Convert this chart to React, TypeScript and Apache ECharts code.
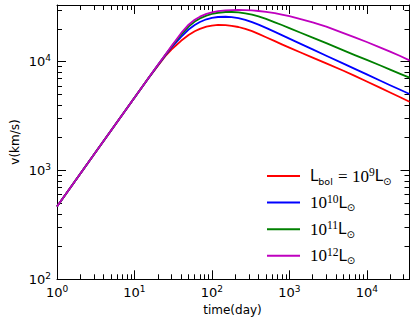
import React, { useEffect, useRef } from 'react';
import * as echarts from 'echarts';

// time in days
const times = [1, 3, 10, 15, 20, 25, 30, 40, 50, 60, 70, 85, 100, 120, 150, 180, 220, 270, 330, 400, 500, 650, 800, 1000, 1400, 2000, 3000, 5000, 7000, 10000, 15000, 20000, 27000, 35600];
// velocity in km/s for each bolometric luminosity
const vL9 = [467, 1400, 4670, 6970, 9120, 11220, 12940, 15560, 17580, 19050, 20040, 20990, 21480, 21780, 21680, 21380, 20840, 20040, 19100, 18030, 16790, 15450, 14450, 13490, 12160, 10910, 9640, 8260, 7400, 6580, 5740, 5210, 4710, 4290];
const vL10 = [467, 1400, 4670, 6980, 9250, 11430, 13490, 16900, 19770, 21730, 23170, 24550, 25290, 25760, 25880, 25700, 25180, 24270, 23070, 21880, 20460, 18790, 17540, 16290, 14590, 12970, 11350, 9590, 8590, 7640, 6680, 6080, 5520, 5050];
const vL11 = [467, 1400, 4670, 7000, 9290, 11530, 13740, 17700, 20990, 23390, 25000, 26550, 27480, 28180, 28640, 28640, 28380, 27800, 27040, 26060, 24720, 23010, 21730, 20370, 18450, 16630, 14790, 12710, 11510, 10380, 9230, 8470, 7740, 7130];
const vL12 = [467, 1400, 4670, 7000, 9310, 11590, 13870, 18280, 21880, 24320, 25940, 27540, 28440, 29110, 29580, 29850, 29920, 29850, 29580, 29240, 28710, 27930, 27100, 26180, 24660, 23010, 21040, 18280, 16750, 15170, 13490, 12390, 11270, 10280];

const seriesNames = ['L9', 'L10', 'L11', 'L12'];
const seriesColors = ['#ff0000', '#0000ff', '#008000', '#bf00bf'];
const seriesValues = [vL9, vL10, vL11, vL12];
const legendLabels = [
  '{L|L}{sb|bol}{n| = 10}{sp|9}{L|L}{od|⊙}',
  '{n|10}{sp|10}{L|L}{od|⊙}',
  '{n|10}{sp|11}{L|L}{od|⊙}',
  '{n|10}{sp|12}{L|L}{od|⊙}',
];

const X_MIN = 1;
const X_MAX = 35600;
const Y_MIN = 100;
const Y_MAX = 33200;
const xMajorExp = [0, 1, 2, 3, 4];
const yMajorExp = [2, 3, 4];

function minorLogs(lo: number, hi: number): number[] {
  const out: number[] = [];
  for (let e = Math.floor(Math.log10(lo)); e <= Math.ceil(Math.log10(hi)); e++) {
    for (let k = 2; k <= 9; k++) {
      const v = k * Math.pow(10, e);
      if (v > lo && v < hi) out.push(Math.log10(v));
    }
  }
  return out;
}

const tickRich = {
  b: { fontFamily: 'DejaVu Sans', fontSize: 13, lineHeight: 16, color: '#000', verticalAlign: 'middle' },
  s: { fontFamily: 'DejaVu Sans', fontSize: 9, lineHeight: 6, color: '#000', verticalAlign: 'top' },
};
const fmtPow = (v: number) => `{b|10}{s|${Math.round(v)}}`;

export default function App() {
  const ref = useRef<HTMLDivElement>(null);
  useEffect(() => {
    if (!ref.current) return;
    const chart = echarts.init(ref.current, undefined, { renderer: 'svg' });
    const xMinor = minorLogs(X_MIN, X_MAX);
    const yMinor = minorLogs(Y_MIN, Y_MAX);
    const lx0 = Math.log10(X_MIN), lx1 = Math.log10(X_MAX);
    const ly0 = Math.log10(Y_MIN), ly1 = Math.log10(Y_MAX);
    const lineStyle = { color: '#000', width: 1 };

    const mkAxis = (pos: string, lo: number, hi: number, ticks: number[], major: boolean, labels: boolean, margin: number) => ({
      type: 'value',
      position: pos,
      min: lo,
      max: hi,
      axisLine: { show: major, onZero: false, lineStyle },
      axisTick: { show: true, inside: true, length: major ? 9 : 5, customValues: ticks, lineStyle },
      axisLabel: labels
        ? { show: true, customValues: ticks, margin, formatter: fmtPow, rich: tickRich }
        : { show: false },
      splitLine: { show: false },
      axisPointer: { show: false },
    });

    chart.setOption({
      animation: false,
      backgroundColor: '#fff',
      grid: { left: 57, right: 5.5, top: 5, bottom: 44.7, containLabel: false },
      xAxis: [
        mkAxis('bottom', lx0, lx1, xMajorExp, true, true, 5),
        mkAxis('bottom', lx0, lx1, xMinor, false, false, 0),
        mkAxis('top', lx0, lx1, xMajorExp, true, false, 0),
        mkAxis('top', lx0, lx1, xMinor, false, false, 0),
      ],
      yAxis: [
        mkAxis('left', ly0, ly1, yMajorExp, true, true, 6),
        mkAxis('left', ly0, ly1, yMinor, false, false, 0),
        mkAxis('right', ly0, ly1, yMajorExp, true, false, 0),
        mkAxis('right', ly0, ly1, yMinor, false, false, 0),
      ],
      legend: {
        orient: 'vertical',
        left: 267,
        top: 166,
        padding: 0,
        itemGap: 6.6,
        itemWidth: 33,
        itemHeight: 2,
        icon: 'rect',
        data: seriesNames,
        formatter: (name: string) => legendLabels[seriesNames.indexOf(name)],
        textStyle: {
          padding: [0, 0, 0, 5],
          rich: {
            L: { fontFamily: 'DejaVu Sans', fontSize: 15, lineHeight: 20, verticalAlign: 'middle', color: '#000' },
            sb: { fontFamily: 'DejaVu Sans', fontSize: 9.5, lineHeight: 16, verticalAlign: 'bottom', color: '#000', padding: [0, 1, 0, 0] },
            n: { fontFamily: 'Liberation Serif', fontSize: 17, lineHeight: 20, verticalAlign: 'middle', color: '#000' },
            sp: { fontFamily: 'Liberation Serif', fontSize: 11.5, lineHeight: 11, verticalAlign: 'top', color: '#000' },
            od: { fontFamily: 'DejaVu Sans', fontSize: 10, lineHeight: 10, verticalAlign: 'bottom', color: '#000' },
          },
        },
      },
      graphic: [
        {
          type: 'text', x: 232.5, y: 310,
          style: { text: 'time(day)', fontFamily: 'DejaVu Sans', fontSize: 12, fill: '#000', align: 'center', verticalAlign: 'middle' },
        },
        {
          type: 'text', x: 15, y: 142, rotation: Math.PI / 2,
          style: { text: 'v(km/s)', fontFamily: 'DejaVu Sans', fontSize: 12, fill: '#000', align: 'center', verticalAlign: 'middle' },
        },
      ],
      series: seriesNames.map((name, i) => ({
        name,
        type: 'line',
        xAxisIndex: 0,
        yAxisIndex: 0,
        data: times.map((t, j) => [Math.log10(t), Math.log10(seriesValues[i][j])]),
        showSymbol: false,
        symbol: 'none',
        smooth: false,
        clip: true,
        color: seriesColors[i],
        lineStyle: { color: seriesColors[i], width: 1.8, join: 'round' },
      })),
    });
    return () => chart.dispose();
  }, []);
  return <div ref={ref} style={{ position: 'absolute', left: 0, top: 0, width: 415, height: 324 }} />;
}
